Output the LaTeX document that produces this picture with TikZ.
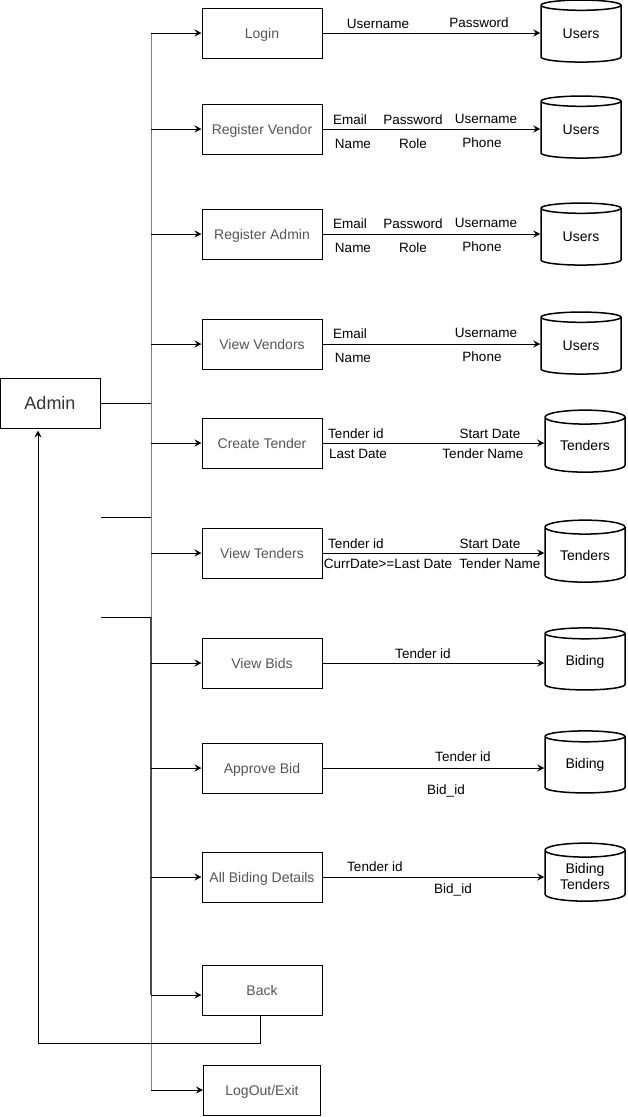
\documentclass[tikz,border=0pt]{standalone}
\usepackage{fontspec}
\setmainfont{Liberation Sans}
\usetikzlibrary{shapes.geometric,arrows.meta}
\definecolor{boxtext}{HTML}{555555}
\definecolor{trunkgray}{HTML}{808080}
\tikzset{
  proc/.style={draw, line width=1pt, minimum width=120pt, minimum height=50pt, inner sep=0pt,
    text=boxtext, text height=10pt, text depth=0pt, font=\fontsize{14}{16}\selectfont},
  db/.style={cylinder, shape border rotate=90, draw, line width=1.5pt, aspect=0.28,
    minimum width=80pt, minimum height=62pt, inner sep=0pt, align=center,
    font=\fontsize{14}{16}\selectfont},
  lbl/.style={inner sep=0pt, text height=10pt, text depth=0pt, font=\fontsize{13.5}{15}\selectfont},
  arr/.style={line width=1pt, -{Stealth[length=7pt,width=7pt,inset=2.5pt]}},
  ln/.style={line width=1pt},
}
\begin{document}
\begin{tikzpicture}[x=1pt,y=-1pt]
\useasboundingbox (0,0) rectangle (627,1117);
% admin
\node[draw, line width=1pt, minimum width=100pt, minimum height=50pt, inner sep=0pt,
  text=black!80, font=\fontsize{18}{20}\selectfont] (admin) at (50,403) {Admin};
% process boxes
\node[proc] (login) at (262,33) {Login};
\node[proc] (regv) at (262,129) {Register Vendor};
\node[proc] (rega) at (262,234) {Register Admin};
\node[proc] (viewv) at (262,344) {View Vendors};
\node[proc] (ctend) at (262,443) {Create Tender};
\node[proc] (vtend) at (262,553) {View Tenders};
\node[proc] (vbids) at (262,663) {View Bids};
\node[proc] (abid) at (262,768) {Approve Bid};
\node[proc] (abd) at (262,877) {All Biding Details};
\node[proc] (back) at (262,990) {Back};
\node[proc, minimum width=117pt] (logout) at (262,1090) {LogOut/Exit};
% databases
\node[db] (u1) at (581,34) {Users};
\node[db] (u2) at (581,130) {Users};
\node[db] (u3) at (581,237) {Users};
\node[db] (u4) at (581,346) {Users};
\node[db] (t1) at (585,445) {Tenders};
\node[db] (t2) at (585,555) {Tenders};
\node[db] (b1) at (585,662) {Biding};
\node[db] (b2) at (585,765) {Biding};
\node[db, minimum height=58pt] (b3) at (585,876) {Biding\\Tenders};
% trunk
\coordinate (ttop) at (151,33);
\coordinate (tbot) at (151,1090);
\coordinate (tadm) at (151,403);
\coordinate (s1a) at (101,517);
\coordinate (s1b) at (151,517);
\coordinate (s2a) at (101,617);
\coordinate (s2b) at (151,617);
\coordinate (dkb) at (151,995);
\draw[ln, trunkgray] (ttop) -- (tbot);
\draw[line width=1.6pt, black!70] (s2b) -- (dkb);
\draw[ln] (admin.east) -- (tadm);
\draw[ln] (s1a) -- (s1b);
\draw[ln] (s2a) -- (s2b);
\foreach \b in {login,regv,rega,viewv,ctend,vtend,vbids,abid,abd,logout}
  \draw[arr] (\b.west -| ttop) -- (\b.west);
\draw[arr] ([yshift=-5pt]back.west -| ttop) -- ([yshift=-5pt]back.west);
% back loop
\coordinate (bk) at (38,1043);
\draw[arr] ([xshift=-2pt]back.south) |- (bk) -- ([xshift=-12pt,yshift=-2pt]admin.south);
% box to database
\draw[arr] (login.east) -- (login.east -| u1.west);
\draw[arr] (regv.east) -- (regv.east -| u2.west);
\draw[arr] (rega.east) -- (rega.east -| u3.west);
\draw[arr] (viewv.east) -- (viewv.east -| u4.west);
\draw[arr] (ctend.east) -- (ctend.east -| t1.west);
\draw[arr] (vtend.east) -- (vtend.east -| t2.west);
\draw[arr] (vbids.east) -- (vbids.east -| b1.west);
\draw[arr] (abid.east) -- (abid.east -| b2.west);
\draw[arr] (abd.east) -- (abd.east -| b3.west);
% labels
\node[lbl] (l1a) at (378,23) {Username};
\node[lbl] (l1b) at (479,22) {Password};
\node[lbl] (l2a) at (350,119) {Email};
\node[lbl] (l2b) at (413,119) {Password};
\node[lbl] (l2c) at (486,118) {Username};
\node[lbl] (l2d) at (353,143) {Name};
\node[lbl] (l2e) at (413,143) {Role};
\node[lbl] (l2f) at (482,142) {Phone};
\node[lbl] (l3a) at (350,223) {Email};
\node[lbl] (l3b) at (413,223) {Password};
\node[lbl] (l3c) at (486,222) {Username};
\node[lbl] (l3d) at (353,247) {Name};
\node[lbl] (l3e) at (413,247) {Role};
\node[lbl] (l3f) at (482,246) {Phone};
\node[lbl] (l4a) at (350,333) {Email};
\node[lbl] (l4c) at (486,332) {Username};
\node[lbl] (l4d) at (353,357) {Name};
\node[lbl] (l4f) at (482,356) {Phone};
\node[lbl] (l5a) at (356,433) {Tender id};
\node[lbl] (l5b) at (490,433) {Start Date};
\node[lbl] (l5c) at (358,453) {Last Date};
\node[lbl] (l5d) at (483,453) {Tender Name};
\node[lbl] (l6a) at (356,543) {Tender id};
\node[lbl] (l6b) at (490,543) {Start Date};
\node[lbl] (l6c) at (388,563) {CurrDate>=Last Date};
\node[lbl] (l6d) at (500,563) {Tender Name};
\node[lbl] (l7a) at (423,653) {Tender id};
\node[lbl] (l8a) at (463,756) {Tender id};
\node[lbl] (l8b) at (446,789) {Bid\_id};
\node[lbl] (l9a) at (375,866) {Tender id};
\node[lbl] (l9b) at (453,888) {Bid\_id};
\end{tikzpicture}
\end{document}
